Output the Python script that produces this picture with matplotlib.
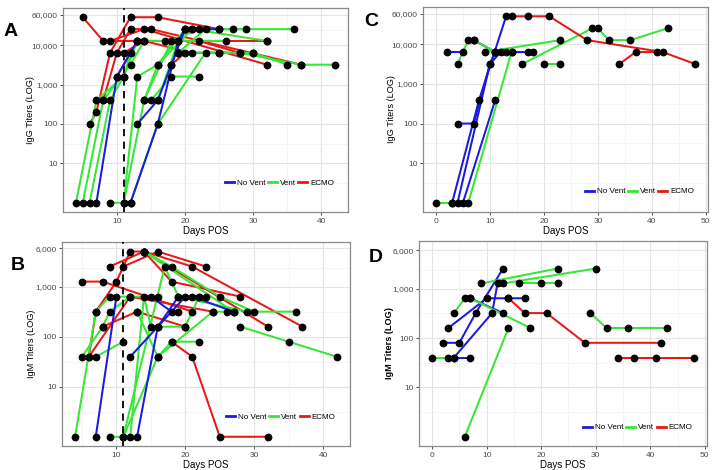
import matplotlib.pyplot as plt
from matplotlib.lines import Line2D
from matplotlib.ticker import FixedLocator, FixedFormatter, NullFormatter

plt.rcParams['font.family'] = ['Liberation Sans', 'DejaVu Sans']

colors = {'No Vent': '#1a1ae0', 'Vent': '#35e835', 'ECMO': '#e81818'}
groups_order = ['No Vent', 'Vent', 'ECMO']

# Panel A: IgG, cohort 1
a_group = ['ECMO', 'ECMO', 'ECMO', 'ECMO', 'ECMO', 'ECMO', 'ECMO',
           'Vent', 'Vent', 'Vent', 'Vent', 'Vent', 'Vent', 'Vent', 'Vent', 'Vent', 'Vent', 'Vent',
           'No Vent', 'No Vent', 'No Vent']
a_days = [[5, 8, 32], [6, 7, 9, 12, 16, 25], [8, 10, 12, 15, 37], [9, 14, 32],
          [10, 13, 22, 28], [11, 14, 21, 30], [18, 20, 25],
          [4, 7, 11, 13, 17], [5, 8, 12, 14], [6, 9, 11, 12], [9, 11, 14, 16, 20, 21, 36],
          [11, 13, 16, 21, 32], [12, 16, 23, 28, 37, 42], [14, 18, 22, 27], [15, 18, 22],
          [16, 19, 26], [19, 23, 29], [19, 25, 30, 35],
          [7, 10, 13], [12, 16, 19, 20, 25], [13, 16, 18, 20]]
a_titer = [[51200, 12800, 12800], [100, 200, 6400, 51200, 51200, 25600],
           [400, 6400, 25600, 25600, 3200], [12800, 25600, 3200],
           [1600, 12800, 12800, 6400], [6400, 12800, 6400, 6400], [3200, 6400, 6400],
           [1, 400, 1600, 12800, 12800], [1, 400, 3200, 12800], [1, 400, 1600, 6400],
           [1, 1, 400, 3200, 25600, 25600, 25600], [1, 1600, 3200, 25600, 12800],
           [1, 100, 6400, 6400, 3200, 3200], [400, 12800, 25600, 25600], [400, 1600, 1600],
           [400, 12800, 12800], [6400, 25600, 25600], [6400, 6400, 6400, 3200],
           [1, 1600, 12800], [1, 100, 12800, 25600, 25600], [100, 400, 3200, 25600]]

# Panel B: IgM, cohort 1
b_group = ['ECMO', 'ECMO', 'ECMO', 'ECMO', 'ECMO', 'ECMO', 'ECMO', 'ECMO',
           'Vent', 'Vent', 'Vent', 'Vent', 'Vent', 'Vent', 'Vent', 'Vent', 'Vent', 'Vent',
           'No Vent', 'No Vent', 'No Vent', 'No Vent']
b_days = [[5, 8, 21], [6, 7, 10, 12, 14, 18, 28], [9, 14, 32], [11, 16, 23],
          [8, 13, 20], [14, 21, 37], [18, 21, 25, 32], [6, 12, 24],
          [4, 7, 9, 16], [5, 8, 9, 12], [7, 11], [9, 11, 17, 19, 29],
          [12, 14, 15, 20, 22, 23], [13, 16, 18, 22], [14, 18, 25, 30, 36],
          [14, 27], [28, 35, 42], [11, 16, 24, 26],
          [7, 10], [12, 16, 20, 21, 27], [13, 16, 19, 22], [15, 18, 19]]
b_titer = [[1280, 1280, 320], [40, 320, 1280, 5120, 5120, 1280, 640], [2560, 5120, 160],
           [2560, 5120, 2560], [160, 320, 160], [5120, 2560, 160], [80, 40, 1, 1],
           [40, 640, 320],
           [1, 320, 640, 640], [40, 160, 320, 640], [40, 80], [1, 1, 2560, 640, 320],
           [1, 640, 160, 160, 640, 640], [320, 40, 80, 80], [5120, 2560, 640, 320, 320],
           [5120, 320], [160, 80, 40], [1, 40, 320, 320],
           [1, 640], [40, 160, 640, 640, 320], [1, 160, 640, 640], [640, 320, 320]]

# Panel C: IgG, cohort 2
c_group = ['No Vent', 'No Vent', 'No Vent', 'No Vent', 'No Vent', 'No Vent',
           'Vent', 'Vent', 'Vent', 'Vent', 'Vent', 'Vent', 'ECMO', 'ECMO']
c_days = [[2, 5], [4, 7, 10, 11, 17], [3, 8, 13], [4, 10, 12, 18], [5, 11], [7, 11, 13],
          [0, 3], [4, 6, 7, 11, 14], [6, 14], [9, 23], [16, 29, 30, 32, 36, 43], [20, 23],
          [14, 17, 21, 28, 42, 48], [34, 37, 41]]
c_titer = [[6400, 6400], [100, 100, 3200, 6400, 6400], [1, 400, 51200], [1, 3200, 6400, 6400],
           [1, 400], [12800, 6400, 6400],
           [1, 1], [3200, 12800, 12800, 6400, 6400], [1, 6400], [6400, 12800],
           [3200, 25600, 25600, 12800, 12800, 25600], [3200, 3200],
           [51200, 51200, 51200, 12800, 6400, 3200], [3200, 6400, 6400]]

# Panel D: IgM, cohort 2
d_group = ['Vent', 'No Vent', 'No Vent', 'No Vent', 'No Vent', 'No Vent',
           'Vent', 'Vent', 'Vent', 'Vent', 'Vent', 'Vent', 'ECMO', 'ECMO']
d_days = [[0, 3], [4, 7], [2, 5, 8, 13], [4, 11, 12], [3, 10, 14, 17], [7, 13],
          [4, 6, 7, 18], [9, 23], [13, 30], [16, 20, 23], [6, 14], [29, 32, 36, 43],
          [14, 17, 21, 28, 42], [34, 37, 41, 48]]
d_titer = [[40, 40], [40, 40], [80, 80, 320, 2560], [40, 320, 1280], [160, 640, 640, 640],
           [640, 320],
           [320, 640, 640, 160], [1280, 2560], [1280, 2560], [1280, 1280, 1280], [1, 160],
           [320, 160, 160, 160],
           [640, 320, 320, 80, 80], [40, 40, 40, 40]]

igg_ticks = [10, 100, 1000, 10000, 60000]
igg_labels = ['10', '100', '1,000', '10,000', '60,000']
igm_ticks = [10, 100, 1000, 6000]
igm_labels = ['10', '100', '1,000', '6,000']

W, H = 712, 470


def panel(box, letter, letter_xy, group, days, titer, yticks, ylabels, ylim, xlim,
          xticks, xminor, ylab, ylab_x, legpos, dashed=False, boldlab=False):
    l, t, r, b = box
    ax = fig.add_axes([l / W, 1 - b / H, (r - l) / W, (b - t) / H])
    for g, d, v in zip(group, days, titer):
        ax.plot(d, v, color=colors[g], lw=1.45, zorder=3, solid_capstyle='butt')
    for d, v in zip(days, titer):
        ax.plot(d, v, 'o', color='black', ms=4.6, lw=0, zorder=4)
    if dashed:
        ax.axvline(11, color='black', ls=(0, (4, 3)), lw=1.3, zorder=5)
    ax.set_yscale('log')
    ax.set_ylim(*ylim)
    ax.set_xlim(*xlim)
    ax.yaxis.set_major_locator(FixedLocator(yticks))
    ax.yaxis.set_major_formatter(FixedFormatter(ylabels))
    ymin = [(yticks[i] * yticks[i + 1]) ** 0.5 for i in range(len(yticks) - 1)]
    ax.yaxis.set_minor_locator(FixedLocator([10 ** 0.5] + ymin))
    ax.yaxis.set_minor_formatter(NullFormatter())
    ax.set_xticks(xticks)
    ax.set_xticks(xminor, minor=True)
    ax.grid(True, which='major', color='#e4e4e4', lw=0.8, zorder=0)
    ax.grid(True, which='minor', color='#f2f2f2', lw=0.5, zorder=0)
    ax.set_axisbelow(True)
    ax.tick_params(which='major', length=2.5, width=0.6, color='#333333',
                   labelsize=6, labelcolor='#4d4d4d', pad=1.5)
    ax.tick_params(which='minor', length=0)
    for s in ax.spines.values():
        s.set_color('#8a8a8a')
        s.set_linewidth(0.9)
    ax.set_xlabel('Days POS', fontsize=7, labelpad=1)
    ax.set_ylabel(ylab, fontsize=6.6, fontweight='bold' if boldlab else 'normal')
    ax.yaxis.set_label_coords((ylab_x + 3.5 - l) / (r - l), 0.5)
    handles = [Line2D([], [], color=colors[g], lw=2) for g in groups_order]
    ax.legend(handles, groups_order, loc='center', bbox_to_anchor=legpos, ncol=3,
              frameon=False, fontsize=5.8, handlelength=1.1, handletextpad=0.4,
              columnspacing=0.3)
    fig.text(letter_xy[0] / W, 1 - letter_xy[1] / H, letter, fontsize=14,
             fontweight='bold', ha='center', va='center')
    return ax


fig = plt.figure(figsize=(7.12, 4.7), dpi=100)

igg_lim = (10 ** -0.235, 10 ** 4.944)
igm_lim = (10 ** -0.185, 10 ** 3.90)
igm2_lim = (10 ** -0.189, 10 ** 3.967)

panel((63, 8, 348, 212), 'A', (10.5, 31), a_group, a_days, a_titer, igg_ticks, igg_labels,
      igg_lim, (2.1, 43.9), [10, 20, 30, 40], [5, 15, 25, 35], 'IgG Titers (LOG)', 32,
      (0.76, 0.14), dashed=True)
panel((423, 7, 708, 212), 'C', (371, 21), c_group, c_days, c_titer, igg_ticks, igg_labels,
      igg_lim, (-2.4, 50.4), [0, 10, 20, 30, 40, 50], [5, 15, 25, 35, 45],
      'IgG Titers (LOG)', 392, (0.76, 0.10))
panel((62, 242, 350, 446), 'B', (18, 265), b_group, b_days, b_titer, igm_ticks, igm_labels,
      igm_lim, (2.1, 43.9), [10, 20, 30, 40], [5, 15, 25, 35], 'IgM Titers (LOG)', 33,
      (0.76, 0.14), dashed=True)
panel((419, 241, 707, 446), 'D', (376, 257), d_group, d_days, d_titer, igm_ticks, igm_labels,
      igm2_lim, (-2.4, 50.4), [0, 10, 20, 30, 40, 50], [5, 15, 25, 35, 45],
      'IgM Titers (LOG)', 390, (0.76, 0.09), boldlab=True)

fig.savefig('out.png', dpi=100)
